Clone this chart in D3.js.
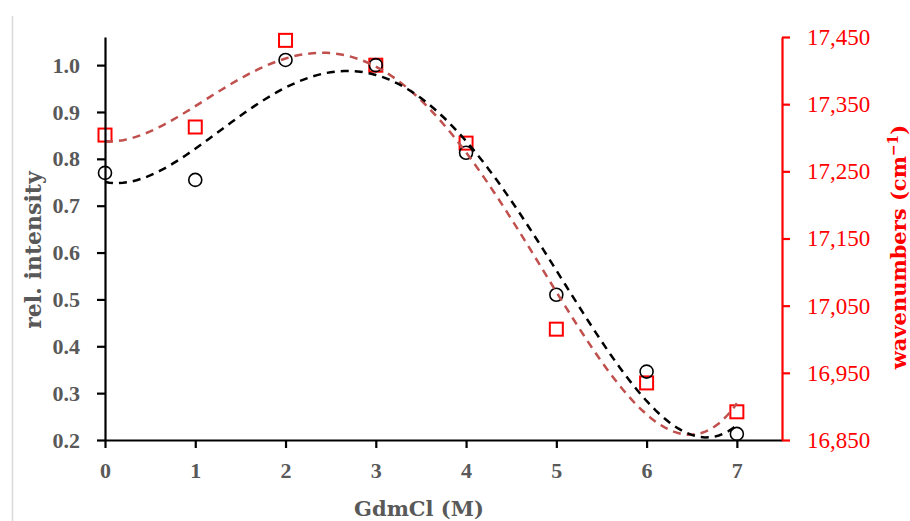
<!DOCTYPE html>
<html>
<head>
<meta charset="utf-8">
<script src="https://cdn.jsdelivr.net/npm/d3@7"></script>
<style>
  html, body { margin: 0; padding: 0; background: #fff; }
  svg { display: block; }
</style>
</head>
<body>
<div id="chart"></div>
<script>
// ----- data -----
const gdmcl = [0, 1, 2, 3, 4, 5, 6, 7];
const relIntensity = [0.77, 0.755, 1.011, 1.0, 0.813, 0.51, 0.346, 0.213];
const wavenumbers = [17304, 17316, 17445, 17408, 17292, 17015, 16935, 16892];
const xTicks = [0, 1, 2, 3, 4, 5, 6, 7];
const leftTicks = [0.2, 0.3, 0.4, 0.5, 0.6, 0.7, 0.8, 0.9, 1.0];
const rightTicks = [16850, 16950, 17050, 17150, 17250, 17350, 17450];
const trendOrder = 4;

const W = 910, H = 521;
const gray = "#595959";
const red = "#ff0000";
const trendRed = "#c0504d";

const svg = d3.select("#chart").append("svg")
  .attr("width", W)
  .attr("height", H);

// chart-area edge
svg.append("line")
  .attr("x1", 12.5).attr("x2", 12.5)
  .attr("y1", 16).attr("y2", H)
  .attr("stroke", "#d9d9d9")
  .attr("stroke-width", 1.5);

const x = d3.scaleLinear().domain([0, 7.5]).range([105, 782]);
const yL = d3.scaleLinear().domain([0.2, 1.06]).range([440, 37]);
const yR = d3.scaleLinear().domain([16850, 17450]).range([440, 37]);

// polynomial least-squares fit (Excel-style trendline)
function polyfit(xs, ys, order) {
  const n = order + 1;
  const A = [];
  for (let i = 0; i < n; i++) {
    A.push([]);
    for (let j = 0; j < n; j++) A[i].push(d3.sum(xs, v => Math.pow(v, i + j)));
    A[i].push(d3.sum(xs, (v, k) => Math.pow(v, i) * ys[k]));
  }
  for (let c = 0; c < n; c++) {
    let p = c;
    for (let r = c + 1; r < n; r++) if (Math.abs(A[r][c]) > Math.abs(A[p][c])) p = r;
    [A[c], A[p]] = [A[p], A[c]];
    for (let r = 0; r < n; r++) {
      if (r === c) continue;
      const f = A[r][c] / A[c][c];
      for (let k = c; k <= n; k++) A[r][k] -= f * A[c][k];
    }
  }
  return A.map((row, i) => row[n] / row[i]);
}
const evalPoly = (co, v) => co.reduce((s, c, i) => s + c * Math.pow(v, i), 0);

const coL = polyfit(gdmcl, relIntensity, trendOrder);
const coR = polyfit(gdmcl, wavenumbers, trendOrder);
const xs = d3.range(0, 7.0001, 0.05);

const g = svg.append("g");

// ---------- markers ----------
g.selectAll("rect.sq")
  .data(gdmcl)
  .join("rect")
  .attr("class", "sq")
  .attr("x", (d, i) => x(d) - 6.5)
  .attr("y", (d, i) => yR(wavenumbers[i]) - 6.5)
  .attr("width", 13)
  .attr("height", 13)
  .attr("fill", "none")
  .attr("stroke", red)
  .attr("stroke-width", 2);

g.selectAll("circle.pt")
  .data(gdmcl)
  .join("circle")
  .attr("class", "pt")
  .attr("cx", d => x(d))
  .attr("cy", (d, i) => yL(relIntensity[i]))
  .attr("r", 6.5)
  .attr("fill", "none")
  .attr("stroke", "#000")
  .attr("stroke-width", 1.6);

// ---------- trendlines ----------
g.append("path")
  .attr("d", d3.line().x(v => x(v)).y(v => yR(evalPoly(coR, v)))(xs))
  .attr("fill", "none")
  .attr("stroke", trendRed)
  .attr("stroke-width", 2.5)
  .attr("stroke-dasharray", "8,6");

g.append("path")
  .attr("d", d3.line().x(v => x(v)).y(v => yL(evalPoly(coL, v)))(xs))
  .attr("fill", "none")
  .attr("stroke", "#000")
  .attr("stroke-width", 2.5)
  .attr("stroke-dasharray", "8,6");

// ---------- axes ----------
const tickFont = "'Liberation Serif', 'Times New Roman', serif";
const titleFont = "'DejaVu Serif', serif";

const bottom = svg.append("g")
  .attr("transform", "translate(0,440)")
  .call(d3.axisBottom(x).tickValues(xTicks).tickFormat(d3.format("d")).tickSize(8).tickSizeOuter(0).tickPadding(14));
bottom.select(".domain").attr("stroke", "#000").attr("stroke-width", 2.2);
bottom.selectAll(".tick line").attr("stroke", "#000").attr("stroke-width", 2.2);
bottom.selectAll(".tick text")
  .attr("fill", gray)
  .attr("font-family", tickFont)
  .attr("font-weight", "bold")
  .attr("font-size", 22);

const left = svg.append("g")
  .attr("transform", "translate(105,0)")
  .call(d3.axisLeft(yL).tickValues(leftTicks).tickFormat(d3.format(".1f")).tickSize(8).tickSizeOuter(0).tickPadding(17));
left.select(".domain").attr("stroke", "#000").attr("stroke-width", 2.2);
left.selectAll(".tick line").attr("stroke", "#000").attr("stroke-width", 2.2);
left.selectAll(".tick text")
  .attr("fill", gray)
  .attr("font-family", tickFont)
  .attr("font-weight", "bold")
  .attr("font-size", 22);

const right = svg.append("g")
  .attr("transform", "translate(782,0)")
  .call(d3.axisRight(yR).tickValues(rightTicks).tickFormat(d3.format(",")).tickSize(8).tickSizeOuter(0).tickPadding(17));
right.select(".domain").attr("stroke", red).attr("stroke-width", 2.2);
right.selectAll(".tick line").attr("stroke", red).attr("stroke-width", 2.2);
right.selectAll(".tick text")
  .attr("fill", red)
  .attr("font-family", tickFont)
  .attr("font-size", 23);

// ---------- titles ----------
svg.append("text")
  .attr("x", 419)
  .attr("y", 516)
  .attr("text-anchor", "middle")
  .attr("font-family", titleFont)
  .attr("font-weight", "bold")
  .attr("font-size", 21)
  .attr("fill", gray)
  .text("GdmCl (M)");

svg.append("text")
  .attr("transform", "translate(41,250) rotate(-90)")
  .attr("text-anchor", "middle")
  .attr("font-family", titleFont)
  .attr("font-weight", "bold")
  .attr("font-size", 22)
  .attr("fill", gray)
  .text("rel. intensity");

const rt = svg.append("text")
  .attr("transform", "translate(906,247) rotate(-90)")
  .attr("text-anchor", "middle")
  .attr("font-family", titleFont)
  .attr("font-weight", "bold")
  .attr("font-size", 21)
  .attr("fill", red);
rt.append("tspan").text("wavenumbers (cm");
rt.append("tspan").attr("dy", -8).attr("font-size", 14).text("\u22121");
rt.append("tspan").attr("dy", 8).text(")");
</script>
</body>
</html>
